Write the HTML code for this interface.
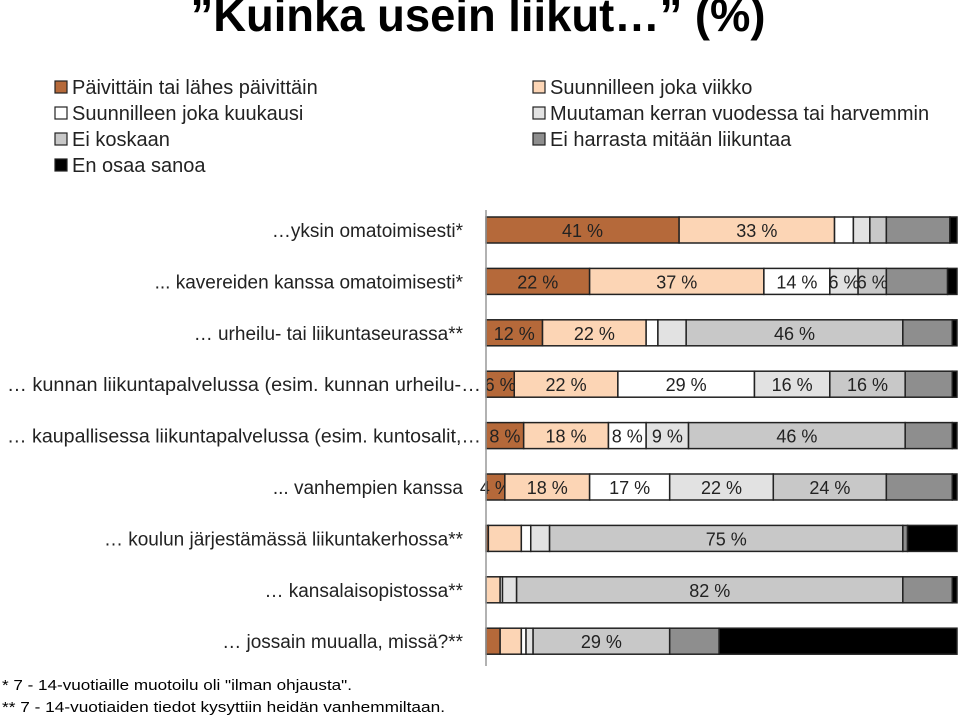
<!DOCTYPE html>
<html><head><meta charset="utf-8">
<style>
html,body{margin:0;padding:0;background:#fff;}
svg{display:block;font-family:"Liberation Sans",sans-serif;}
</style></head>
<body>
<svg id="chart" width="960" height="717" viewBox="0 0 960 717" xmlns="http://www.w3.org/2000/svg">
<text x="478" y="31" text-anchor="middle" font-size="46" font-weight="bold" textLength="575" lengthAdjust="spacingAndGlyphs">”Kuinka usein liikut…” (%)</text>
<g id="legend"></g>
<g id="labels"></g>
<g id="bars"></g>
<line x1="486" y1="210" x2="486" y2="666" stroke="#999" stroke-width="1.5"/>
<text x="2" y="690" font-size="15" textLength="350" lengthAdjust="spacingAndGlyphs">* 7 - 14-vuotiaille muotoilu oli "ilman ohjausta".</text>
<text x="2" y="712" font-size="15" textLength="443" lengthAdjust="spacingAndGlyphs">** 7 - 14-vuotiaiden tiedot kysyttiin  heidän vanhemmiltaan.</text>
</svg>
<script>
const categories = ["…yksin omatoimisesti*", "... kavereiden kanssa omatoimisesti*", "… urheilu- tai liikuntaseurassa**", "… kunnan liikuntapalvelussa (esim. kunnan urheilu-…", "… kaupallisessa liikuntapalvelussa (esim. kuntosalit,…", "... vanhempien kanssa", "… koulun järjestämässä liikuntakerhossa**", "… kansalaisopistossa**", "… jossain muualla, missä?**"];
const seriesNames = ["Päivittäin tai lähes päivittäin", "Suunnilleen joka viikko", "Suunnilleen joka kuukausi", "Muutaman kerran vuodessa tai harvemmin", "Ei koskaan", "Ei harrasta mitään liikuntaa", "En osaa sanoa"];
const sDaily   = [41, 22, 12, 6, 8, 4, 0.5, 0, 3];
const sWeekly  = [33, 37, 22, 22, 18, 18, 7, 3, 4.5];
const sMonthly = [4, 14, 2.5, 29, 8, 17, 2, 0.5, 1];
const sYearly  = [3.5, 6, 6, 16, 9, 22, 4, 3, 1.5];
const sNever   = [3.5, 6, 46, 16, 46, 24, 75, 82, 29];
const sNoSport = [13.5, 13, 10.5, 10, 10, 14, 1, 10.5, 10.5];
const sDontKnow= [1.5, 2, 1, 1, 1, 1, 10.5, 1, 50.5];
const labelShown = [
 [1,1,0,0,0,0,0],[1,1,1,1,1,0,0],[1,1,0,0,1,0,0],[1,1,1,1,1,0,0],[1,1,1,1,1,0,0],
 [1,1,1,1,1,0,0],[0,0,0,0,1,0,0],[0,0,0,0,1,0,0],[0,0,0,0,1,0,0]];
const colors = ["#b5693a","#fcd5b5","#ffffff","#e2e2e2","#c8c8c8","#8e8e8e","#000000"];
const series = [sDaily,sWeekly,sMonthly,sYearly,sNever,sNoSport,sDontKnow];
const NS="http://www.w3.org/2000/svg";
const x0=486, x1=957, rowTop=217, rowStep=51.4, barH=26;
const xScale = v => x0 + v/100*(x1-x0);
const yScale = i => rowTop + i*rowStep;
const bars=document.getElementById('bars'), labs=document.getElementById('labels'), leg=document.getElementById('legend');
function mk(tag, attrs){const e=document.createElementNS(NS,tag);for(const k in attrs)e.setAttribute(k,attrs[k]);return e;}
categories.forEach((c,i)=>{
  const t=mk('text',{x:463,y:yScale(i)+20,'text-anchor':'end','font-size':19,fill:'#222'});
  if(i===3||i===4){t.setAttribute('x',481);t.setAttribute('textLength',474);t.setAttribute('lengthAdjust','spacingAndGlyphs');}
  
  
  t.textContent=c; labs.appendChild(t);
  let cum=0;
  series.forEach((s,j)=>{
    const v=s[i]; const xa=xScale(cum), xb=xScale(cum+v); cum+=v;
    if(v<=0) return;
    const r=mk('rect',{x:xa,y:yScale(i),width:xb-xa,height:barH,fill:colors[j],stroke:'#222','stroke-width':1.5});
    
    
    bars.appendChild(r);
    if(labelShown[i][j]){
      const tl=mk('text',{x:(xa+xb)/2,y:yScale(i)+20,'text-anchor':'middle','font-size':18,fill:'#222'});
      
      
      tl.textContent=Math.round(v)+' %'; bars.appendChild(tl);
    }
  });
});
const legPos=[[55,88],[533,88],[55,114],[533,114],[55,140],[533,140],[55,166]];
seriesNames.forEach((n,j)=>{
  const [lx,ly]=legPos[j];
  const r=mk('rect',{x:lx,y:ly-7,width:12,height:12,fill:colors[j],stroke:'#222','stroke-width':1.2});
  
  
  leg.appendChild(r);
  const t=mk('text',{x:lx+17,y:ly+6,'font-size':20,fill:'#222'});
  
  
  t.textContent=n; leg.appendChild(t);
});
</script>
</body></html>
